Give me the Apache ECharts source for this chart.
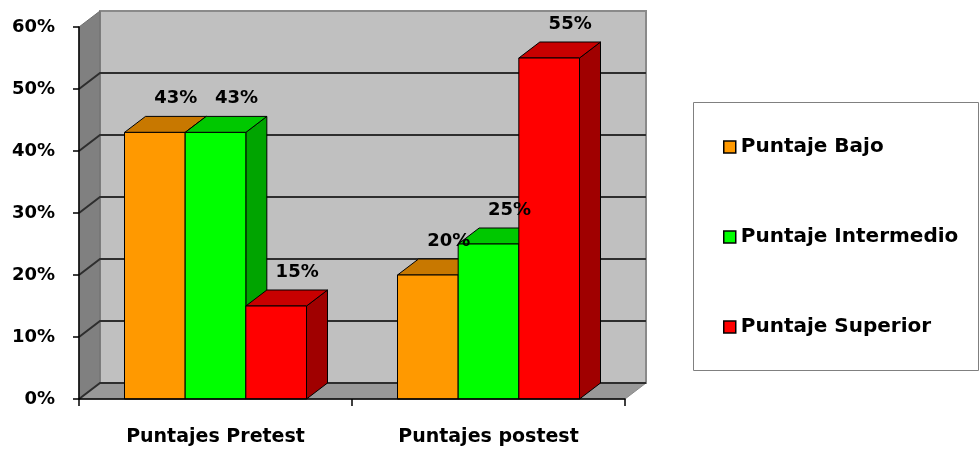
<!DOCTYPE html>
<html>
<head>
<meta charset="utf-8">
<script src="https://cdn.jsdelivr.net/npm/echarts@6/dist/echarts.min.js"></script>
<style>
  html, body { margin: 0; padding: 0; background: #ffffff; }
  #chart { width: 980px; height: 449px; }
</style>
</head>
<body>
<div id="chart"></div>
<script>
// Score distribution before and after the intervention (percent of students)
const categories = ['Puntajes Pretest', 'Puntajes postest'];
const seriesNames = ['Puntaje Bajo', 'Puntaje Intermedio', 'Puntaje Superior'];
const bajo = [43, 20];
const intermedio = [43, 25];
const superior = [15, 55];
const yTicks = [0, 10, 20, 30, 40, 50, 60];

const FONT = 'DejaVu Sans';
// depth of the pseudo-3D box (pixels right / up)
const DX = 21, DY = -16;

const faceColors = [
  { front: '#ff9900', top: '#c87800', side: '#a36200' },
  { front: '#00ff00', top: '#00c800', side: '#00a400' },
  { front: '#ff0000', top: '#c80000', side: '#a00000' }
];

// back wall, left wall and floor of the plot box
function renderWalls(params, api) {
  const cs = params.coordSys;
  const L = cs.x, R = cs.x + cs.width, T = cs.y, B = cs.y + cs.height;
  return {
    type: 'group',
    children: [
      { type: 'rect', shape: { x: L + DX, y: T + DY, width: cs.width, height: cs.height },
        style: { fill: '#c0c0c0', stroke: '#8a8a8a', lineWidth: 2 } },
      { type: 'polygon', shape: { points: [[L, T], [L + DX, T + DY], [L + DX, B + DY], [L, B]] },
        style: { fill: '#808080', stroke: '#6e6e6e', lineWidth: 1 } },
      { type: 'polygon', shape: { points: [[L, B], [L + DX, B + DY], [R + DX, B + DY], [R, B]] },
        style: { fill: '#999999', stroke: '#8a8a8a', lineWidth: 1 } }
    ]
  };
}

// gridline at one tick: diagonal across the left wall, then along the back wall
function renderGrid(params, api) {
  const cs = params.coordSys;
  const L = cs.x, R = cs.x + cs.width;
  const y = api.coord([0, api.value(1)])[1];
  return {
    type: 'polyline',
    shape: { points: [[L, y], [L + DX, y + DY], [R + DX, y + DY]] },
    style: { stroke: '#2e2e2e', lineWidth: 2, fill: null }
  };
}

// one 3D column: side face, top face, front face and its value label
function barRenderer(k) {
  return function (params, api) {
    const cat = api.value(0), val = api.value(1);
    const base = api.coord([cat, 0]);
    const tip = api.coord([cat, val]);
    const band = api.size([1, 0])[0];
    const w = band * 2 / 9;
    const x0 = base[0] + (k - 1.5) * w;
    const x1 = x0 + w;
    const yb = base[1], yt = tip[1];
    const c = faceColors[k];
    const edge = { stroke: '#000000', lineWidth: 1, lineJoin: 'round' };
    return {
      type: 'group',
      children: [
        { type: 'polygon', shape: { points: [[x1, yb], [x1 + DX, yb + DY], [x1 + DX, yt + DY], [x1, yt]] },
          style: Object.assign({ fill: c.side }, edge) },
        { type: 'polygon', shape: { points: [[x0, yt], [x1, yt], [x1 + DX, yt + DY], [x0 + DX, yt + DY]] },
          style: Object.assign({ fill: c.top }, edge) },
        { type: 'rect', shape: { x: x0, y: yt, width: w, height: yb - yt },
          style: Object.assign({ fill: c.front }, edge) },
        { type: 'text', x: x0 + w / 2 + DX, y: yt + DY - 18, z2: 100,
          style: { text: val + '%', fill: '#000', font: 'bold 18px "' + FONT + '"',
                   align: 'center', verticalAlign: 'middle' } }
      ]
    };
  };
}

const values = [bajo, intermedio, superior];
const yMin = yTicks[0], yMax = yTicks[yTicks.length - 1];

const barSeries = seriesNames.map(function (name, k) {
  return {
    name: name,
    type: 'custom',
    z: 2,
    renderItem: barRenderer(k),
    itemStyle: { color: faceColors[k].front },
    data: values[k].map(function (v, i) { return [i, v]; })
  };
});

const chart = echarts.init(document.getElementById('chart'), null, { renderer: 'canvas' });
chart.setOption({
  animation: false,
  backgroundColor: '#ffffff',
  grid: { left: 79, right: 355, top: 27, bottom: 50, containLabel: false },
  graphic: [{
    type: 'rect', left: 693, top: 102, z: 0,
    shape: { width: 285, height: 268 },
    style: { fill: '#ffffff', stroke: '#808080', lineWidth: 1 }
  }],
  legend: {
    orient: 'vertical',
    left: 723, top: 137,
    padding: 0,
    itemGap: 70,
    itemWidth: 12, itemHeight: 12,
    icon: 'rect',
    itemStyle: { borderColor: '#000000', borderWidth: 1.5 },
    textStyle: { fontFamily: FONT, fontWeight: 'bold', fontSize: 20, color: '#000', lineHeight: 20 },
    data: seriesNames
  },
  xAxis: {
    type: 'category',
    data: categories,
    z: 5,
    boundaryGap: true,
    axisLine: { show: true, lineStyle: { color: '#000', width: 1.5 } },
    axisTick: { show: true, length: 7, interval: 0, lineStyle: { color: '#000', width: 1.5 } },
    axisLabel: { margin: 29, fontFamily: FONT, fontWeight: 'bold', fontSize: 19, color: '#000' },
    splitLine: { show: false }
  },
  yAxis: {
    type: 'value',
    min: yMin, max: yMax, interval: yTicks[1] - yTicks[0],
    z: 5,
    axisLine: { show: true, lineStyle: { color: '#000', width: 1.5 } },
    axisTick: { show: true, length: 6, lineStyle: { color: '#000', width: 1.5 } },
    axisLabel: { margin: 24, formatter: '{value}%', fontFamily: FONT, fontWeight: 'bold', fontSize: 18, color: '#000' },
    splitLine: { show: false }
  },
  series: [
    { type: 'custom', name: 'walls', z: 1, renderItem: renderWalls, data: [[0, 0]], silent: true },
    { type: 'custom', name: 'grid', z: 1, renderItem: renderGrid, silent: true,
      data: yTicks.filter(function (t) { return t < yMax; }).map(function (t) { return [0, t]; }) }
  ].concat(barSeries)
});
</script>
</body>
</html>
